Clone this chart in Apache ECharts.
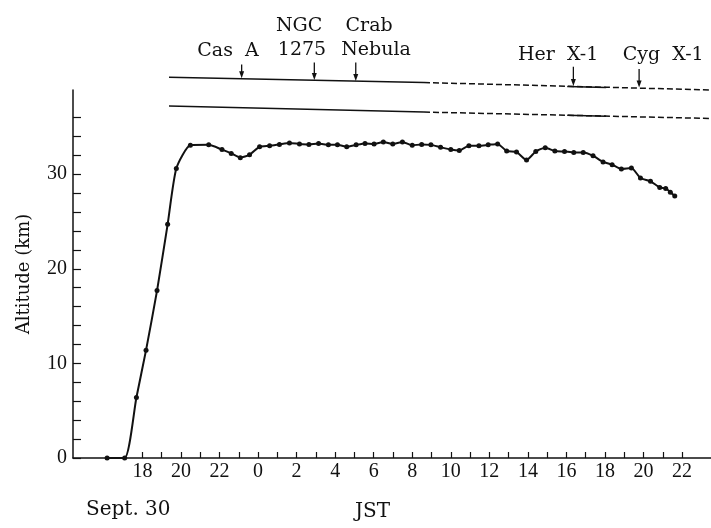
<!DOCTYPE html>
<html>
<head>
<meta charset="utf-8">
<title>Balloon altitude</title>
<script src="https://cdn.jsdelivr.net/npm/echarts@6/dist/echarts.min.js"></script>
<style>
  html, body { margin: 0; padding: 0; background: #fff; }
  #chart { width: 711px; height: 528px; }
</style>
</head>
<body>
<div id="chart"></div>
<script>
// time in hours counted from Sept. 30, 0h JST (24 = Oct. 1, 0h)
var hours = [16.17, 17.08, 17.69, 18.19, 18.76, 19.31, 19.76,
  20.49, 21.44, 22.13, 22.61, 23.08, 23.56, 24.08, 24.6, 25.11, 25.63,
  26.15, 26.64, 27.14, 27.65, 28.12, 28.6, 29.09, 29.55, 30.02, 30.5,
  30.99, 31.49, 32.0, 32.49, 32.97, 33.47, 34.0, 34.44, 34.94, 35.46,
  35.94, 36.43, 36.9, 37.41, 37.93, 38.41, 38.9, 39.4, 39.9, 40.38,
  40.87, 41.38, 41.9, 42.37, 42.85, 43.37, 43.84, 44.36, 44.84, 45.15,
  45.39, 45.62];
var altitude = [0, 0, 6.4, 11.4, 17.7, 24.7, 30.6,
  33.05, 33.1, 32.6, 32.2, 31.75, 32.05, 32.9, 33.0, 33.15, 33.3,
  33.2, 33.15, 33.25, 33.1, 33.1, 32.9, 33.1, 33.25, 33.2, 33.4,
  33.2, 33.4, 33.05, 33.15, 33.1, 32.85, 32.6, 32.5, 33.0, 33.0,
  33.1, 33.2, 32.45, 32.35, 31.5, 32.4, 32.8, 32.45, 32.4, 32.3,
  32.3, 31.95, 31.3, 31.0, 30.55, 30.65, 29.6, 29.25, 28.6, 28.5,
  28.1, 27.7];

var xTickHours = [18, 19, 20, 21, 22, 23, 24, 25, 26, 27, 28, 29, 30, 31, 32,
  33, 34, 35, 36, 37, 38, 39, 40, 41, 42, 43, 44, 45, 46];
var xLabelHours = [18, 20, 22, 24, 26, 28, 30, 32, 34, 36, 38, 40, 42, 44, 46];
var yTicks = [0, 2, 4, 6, 8, 10, 12, 14, 16, 18, 20, 22, 24, 26, 28, 30, 32, 34, 36];
var yLabels = [0, 10, 20, 30];

// the two long rules above the plot (hour, km on the altitude scale)
var upperSolid = [[19.38, 40.24], [32.61, 39.69]];
var upperSolid2 = [[40.04, 39.26], [42.06, 39.16]];
var upperDashed = [[32.61, 39.69], [47.5, 38.9]];
var lowerSolid = [[19.38, 37.21], [32.61, 36.57]];
var lowerSolid2 = [[40.04, 36.23], [42.06, 36.13]];
var lowerDashed = [[32.61, 36.57], [47.5, 35.89]];

// source transit arrows
var arrowHours = [23.15, 26.92, 29.07, 40.36, 43.77];
var arrowTop = [41.6, 41.8, 41.8, 41.36, 41.12];
var arrowTip = [40.51, 40.33, 40.23, 39.69, 39.53];

var labelText = ['Cas  A', 'NGC', '1275', 'Crab', 'Nebula', 'Her  X-1', 'Cyg  X-1'];
var labelHours = [22.44, 26.13, 26.28, 29.76, 30.12, 39.57, 45.02];
var labelAlt = [43.02, 45.61, 43.08, 45.61, 43.08, 42.55, 42.6];

var ink = '#111';
var serif = 'DejaVu Serif';

function rule(data, dashed) {
  return {
    type: 'line', data: data, clip: false, silent: true, symbol: 'none',
    lineStyle: {color: ink, width: 1.5, type: dashed ? [6, 3] : 'solid'}
  };
}

var series = [
  {
    type: 'line',
    data: hours.map(function (h, i) { return [h, altitude[i]]; }),
    smooth: 0.2,
    symbol: 'circle',
    symbolSize: 5,
    showAllSymbol: true,
    lineStyle: {color: ink, width: 2},
    itemStyle: {color: ink}
  },
  rule(upperSolid), rule(upperSolid2), rule(upperDashed, true),
  rule(lowerSolid), rule(lowerSolid2), rule(lowerDashed, true)
];

arrowHours.forEach(function (h, i) {
  series.push({
    type: 'line', clip: false, silent: true,
    data: [[h, arrowTop[i]], [h, arrowTip[i]]],
    symbol: function (v, p) { return p.dataIndex === 1 ? 'triangle' : 'none'; },
    symbolSize: [5, 7],
    symbolRotate: 180,
    lineStyle: {color: ink, width: 1.3},
    itemStyle: {color: ink}
  });
});

series.push({
  type: 'scatter', clip: false, silent: true,
  symbolSize: 0,
  itemStyle: {color: ink},
  data: labelText.map(function (t, i) { return {name: t, value: [labelHours[i], labelAlt[i]]}; }),
  label: {
    show: true, position: 'inside', formatter: '{b}',
    fontFamily: serif, fontSize: 19, color: ink, opacity: 1,
    textBorderWidth: 0
  }
});

var myChart = echarts.init(document.getElementById('chart'));
myChart.setOption({
  animation: false,
  backgroundColor: '#fff',
  grid: {left: 73, right: 0, top: 90, bottom: 70},
  xAxis: {
    type: 'value', min: 14.4, max: 47.5,
    axisLine: {show: true, lineStyle: {color: ink, width: 1.5}},
    axisTick: {show: true, inside: true, length: 6, customValues: xTickHours, lineStyle: {color: ink, width: 1.2}},
    axisLabel: {
      customValues: xLabelHours, margin: 4,
      formatter: function (v) { return String(v % 24); },
      fontFamily: 'Liberation Serif', fontSize: 20, color: ink
    },
    splitLine: {show: false},
    name: 'JST', nameLocation: 'middle', nameGap: 44,
    nameTextStyle: {fontFamily: serif, fontSize: 20, color: ink, padding: [0, 39, 0, 0]}
  },
  yAxis: {
    type: 'value', min: 0, max: 38.9,
    axisLine: {show: true, lineStyle: {color: ink, width: 1.5}},
    axisTick: {show: true, inside: true, length: 8, customValues: yTicks, lineStyle: {color: ink, width: 1.2}},
    axisLabel: {
      customValues: yLabels, margin: 6,
      fontFamily: 'Liberation Serif', fontSize: 20, color: ink
    },
    splitLine: {show: false},
    name: 'Altitude (km)', nameLocation: 'middle', nameGap: 40,
    nameTextStyle: {fontFamily: serif, fontSize: 18, color: ink}
  },
  graphic: [{
    type: 'text', left: 86, top: 500,
    style: {text: 'Sept. 30', font: '20px "DejaVu Serif"', fill: ink}
  }],
  series: series
});
</script>
</body>
</html>
